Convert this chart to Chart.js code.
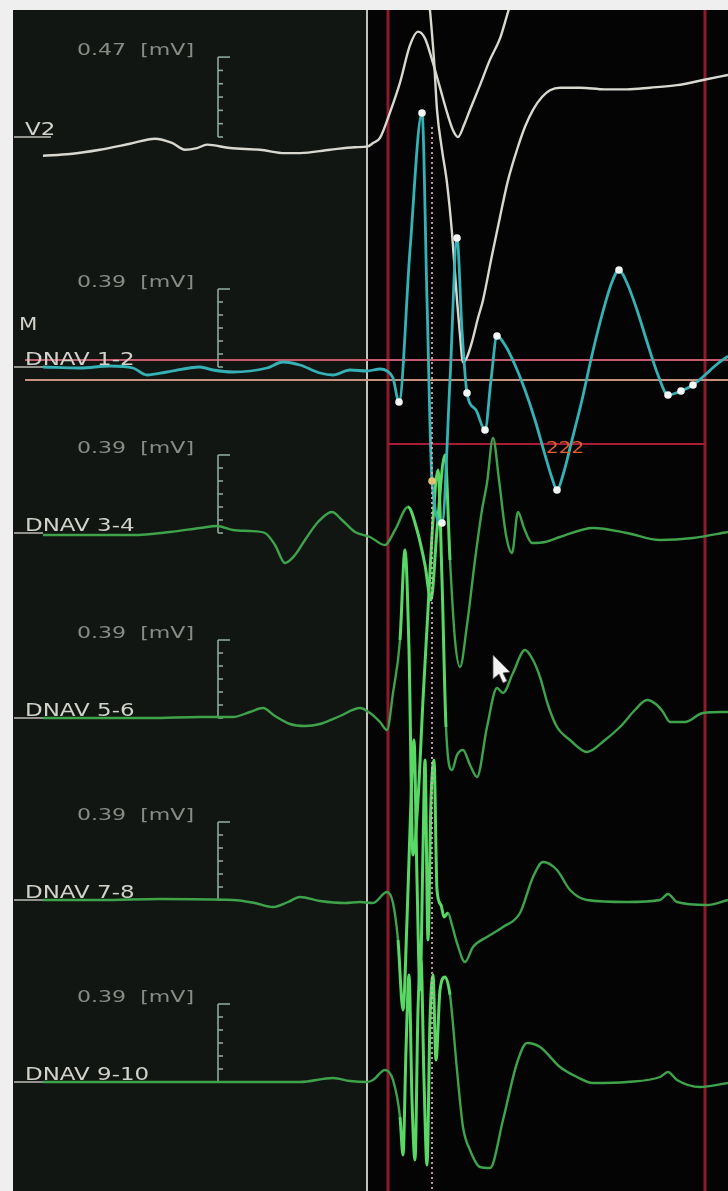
<!DOCTYPE html>
<html><head><meta charset="utf-8">
<script src="https://cdn.jsdelivr.net/npm/chart.js@4/dist/chart.umd.min.js"></script>
<style>html,body{margin:0;padding:0;background:#efefef;overflow:hidden;}canvas{display:block;}</style>
</head><body><canvas id="c" width="728" height="1191"></canvas>
<script>
// ---- Data (time in ms from window start, amplitude in mV relative to channel reference) ----
const v2Time = [30,57,87,117,142,159,172,184,194,217,247,272,287,317,342,355,360,367,377,387,397,405,412,419,427,434,440,445,451,457,467,477,487,495,502];
const v2Values = [-0.11,-0.10,-0.075,-0.04,-0.01,-0.035,-0.075,-0.065,-0.045,-0.065,-0.075,-0.095,-0.095,-0.075,-0.06,-0.055,-0.035,-0.005,0.145,0.32,0.54,0.62,0.58,0.455,0.29,0.145,0.04,0,0.07,0.16,0.305,0.455,0.58,0.735,0.865];

const ecg2Time = [415,417,421,424,429,434,439,444,447,450,454,459,465,470,479,487,495,504,512,520,529,537,547,567,592,614,637,664,690,715];
const ecg2Values = [0.865,0.745,0.455,0.16,-0.075,-0.27,-0.565,-0.96,-1.165,-1.325,-1.295,-1.205,-1.065,-0.96,-0.695,-0.47,-0.255,-0.075,0.06,0.16,0.235,0.275,0.29,0.29,0.28,0.28,0.29,0.305,0.335,0.365];

const dnav12Time = [30,67,97,120,134,154,187,200,220,254,270,287,307,320,337,354,367,374,380,386,397,409,414,419,429,437,444,449,454,463,472,478,484,492,502,512,522,532,539,544,550,559,569,579,589,599,606,614,624,635,645,655,668,680,692,703,715];
const dnav12Values = [0,-0.005,0.005,-0.005,-0.04,-0.025,0,-0.015,-0.025,-0.005,0.025,0.01,-0.03,-0.04,-0.015,-0.02,-0.01,-0.02,-0.055,-0.175,0.585,1.27,0.335,-0.57,-0.78,-0.065,0.645,0.185,-0.13,-0.215,-0.315,-0.065,0.155,0.11,0.01,-0.115,-0.265,-0.44,-0.555,-0.615,-0.54,-0.365,-0.165,0.06,0.26,0.425,0.485,0.42,0.285,0.11,-0.04,-0.14,-0.12,-0.09,-0.04,0.01,0.055];
const dnav12Marks = [386,409,419,429,444,454,472,484,544,606,655,668,680];
const dnav12ActiveMark = 419;

const dnav34Time = [30,77,120,157,187,204,220,237,252,262,272,282,292,305,319,329,342,357,372,382,395,404,412,418,424,432,437,442,447,454,462,469,474,480,486,493,499,505,511,519,532,547,580,614,647,680,715];
const dnav34Values = [-0.01,-0.01,-0.01,0.005,0.025,0.035,0.015,0.01,0,-0.06,-0.15,-0.11,-0.035,0.055,0.105,0.065,0.005,-0.02,-0.06,0.015,0.13,0.015,-0.16,-0.335,0.015,0.39,-0.135,-0.535,-0.67,-0.46,-0.135,0.115,0.25,0.475,0.265,-0.01,-0.10,0.105,0.025,-0.05,-0.045,-0.02,0.025,0,-0.035,-0.025,0.005];

const dnav56Time = [30,87,137,187,220,237,250,262,277,292,307,327,347,357,367,374,380,387,392,396,400,405,410,415,420,425,429,433,439,444,450,457,464,474,484,490,500,512,520,527,535,544,557,574,592,607,622,634,644,650,657,672,690,715];
const dnav56Values = [0,0,0,0.005,0.005,0.03,0.05,0.01,-0.03,-0.04,-0.03,0.01,0.05,0.025,-0.02,-0.06,0.125,0.39,0.84,0.34,-0.685,-0.41,0.09,0.54,0.99,1.24,0.69,-0.045,-0.26,-0.185,-0.16,-0.235,-0.295,-0.045,0.15,0.125,0.225,0.34,0.29,0.205,0.065,-0.045,-0.11,-0.17,-0.11,-0.045,0.04,0.09,0.065,0.03,-0.02,-0.02,0.025,0.03];

const dnav78Time = [30,87,147,220,242,260,275,287,307,332,347,360,374,380,385,390,394,398,401,404,407,410,412,415,418,421,424,428,431,435,439,444,452,460,474,490,507,520,530,544,557,574,614,647,655,664,694,715];
const dnav78Values = [0,0,0.005,0,-0.015,-0.035,-0.01,0.015,-0.005,-0.015,-0.01,-0.015,0.04,-0.015,-0.2,-0.55,-0.1,0.5,0.8,0.1,-0.45,0.25,0.7,-0.2,0.5,0.7,0.05,-0.025,-0.085,-0.065,-0.125,-0.215,-0.31,-0.235,-0.185,-0.135,-0.065,0.115,0.19,0.15,0.05,0,-0.01,0,0.03,-0.01,-0.025,0];

const dnav910Time = [30,137,220,287,320,337,354,360,372,380,387,390,393,396,399,402,405,408,411,414,417,420,423,427,432,437,444,450,457,467,477,490,504,514,527,547,564,580,614,647,655,664,687,715];
const dnav910Values = [0,0,0,0,0.02,0.005,0,0.01,0.06,0.01,-0.175,-0.365,0.16,0.535,-0.09,-0.39,0.36,0.61,0.01,-0.415,0.31,0.535,0.11,0.46,0.525,0.435,0.06,-0.225,-0.34,-0.425,-0.43,-0.19,0.095,0.195,0.175,0.075,0.025,-0.005,0,0.025,0.05,0.01,-0.025,-0.005];

const channelLabels = ['V2','DNAV 1-2','DNAV 3-4','DNAV 5-6','DNAV 7-8','DNAV 9-10'];
const scaleValues = [0.47,0.39,0.39,0.39,0.39,0.39];
const cycleLengthLabel = '222';

// ---- Layout (page pixels / gains) ----
const AREA_TOP = 10, AREA_BOTTOM = 1191;
const layoutCh = [
  {id:'yV2', base:137, gain:170},
  {id:'y12', base:367, gain:200},
  {id:'y34', base:533, gain:200},
  {id:'y56', base:718, gain:200},
  {id:'y78', base:900, gain:200},
  {id:'y910',base:1082,gain:200}
];
const T = {grey:354, red1:375, red2:692, dotted:419, bar:205, scaleText:64, lineStart:12};

const pts = (t,v)=>t.map((x,i)=>({x, y:v[i]}));
const yScales = {};
layoutCh.forEach(c=>{
  yScales[c.id] = {type:'linear', display:false, min:-(AREA_BOTTOM-c.base)/c.gain, max:(c.base-AREA_TOP)/c.gain};
});

const GREEN = '#3fa34b', GREEN_BRIGHT = '#5ad866';
const inBurst = ctx => ctx.p0.parsed.x >= 385 && ctx.p1.parsed.x <= 437;
const greenSeg = {
  borderColor: ctx => inBurst(ctx) ? GREEN_BRIGHT : GREEN,
  borderWidth: ctx => inBurst(ctx) ? 3 : 2.4
};
const lineBase = {pointRadius:0, cubicInterpolationMode:'monotone', borderWidth:2.4, fill:false};

const markData = dnav12Marks.map(t=>({x:t, y:dnav12Values[dnav12Time.indexOf(t)]}));

const datasets = [
  {label:'DNAV 1-2 annotations', data:markData, yAxisID:'y12', showLine:false, pointRadius:3.8, borderWidth:0,
   pointBackgroundColor: markData.map(p=>p.x===dnav12ActiveMark?'#e0c46a':'#f2f6f4')},
  {...lineBase, label:'DNAV 1-2', data:pts(dnav12Time,dnav12Values), yAxisID:'y12', borderColor:'#35b2b6', borderWidth:2.8},
  {...lineBase, label:'V2', data:pts(v2Time,v2Values), yAxisID:'yV2', borderColor:'#d8d8d0'},
  {...lineBase, label:'ECG', data:pts(ecg2Time,ecg2Values), yAxisID:'yV2', borderColor:'#d8d8d0'},
  {...lineBase, label:'DNAV 3-4', data:pts(dnav34Time,dnav34Values), yAxisID:'y34', borderColor:GREEN, segment:greenSeg},
  {...lineBase, label:'DNAV 5-6', data:pts(dnav56Time,dnav56Values), yAxisID:'y56', borderColor:GREEN, segment:greenSeg},
  {...lineBase, label:'DNAV 7-8', data:pts(dnav78Time,dnav78Values), yAxisID:'y78', borderColor:GREEN, segment:greenSeg},
  {...lineBase, label:'DNAV 9-10', data:pts(dnav910Time,dnav910Values), yAxisID:'y910', borderColor:GREEN, segment:greenSeg}
];

function stretchText(ctx, txt, x, y, sx){
  ctx.save(); ctx.translate(x,y); ctx.scale(sx,1); ctx.fillText(txt,0,0); ctx.restore();
}

const bgPlugin = {
  id:'bg',
  beforeDraw(chart){
    const {ctx, chartArea:a, scales} = chart;
    const split = scales.x.getPixelForValue(T.grey);
    ctx.save();
    ctx.fillStyle='#efefef'; ctx.fillRect(0,0,chart.width,chart.height);
    ctx.fillStyle='#121612'; ctx.fillRect(a.left,a.top,split-a.left,a.bottom-a.top);
    ctx.fillStyle='#040404'; ctx.fillRect(split,a.top,a.right-split,a.bottom-a.top);
    ctx.restore();
  },
  beforeDatasetsDraw(chart){
    const {ctx, chartArea:a, scales} = chart;
    const x = scales.x, y12 = scales.y12;
    ctx.save();
    const vline = (t,color,w)=>{
      const px = x.getPixelForValue(t);
      ctx.beginPath(); ctx.strokeStyle=color; ctx.lineWidth=w; ctx.setLineDash([]);
      ctx.moveTo(px, a.top); ctx.lineTo(px, a.bottom); ctx.stroke();
    };
    vline(T.grey,'#c2c2bc',2);
    vline(T.red1,'#8c1a2b',3);
    vline(T.red2,'#8c1a2b',3);
    const hline = (v,t0,t1,color,w)=>{
      const py = y12.getPixelForValue(v);
      ctx.beginPath(); ctx.strokeStyle=color; ctx.lineWidth=w; ctx.setLineDash([]);
      ctx.moveTo(x.getPixelForValue(t0),py); ctx.lineTo(x.getPixelForValue(t1),py); ctx.stroke();
    };
    hline(0.035,T.lineStart,715,'#c45a6c',2);
    hline(-0.065,T.lineStart,715,'#c8907f',2);
    hline(-0.385,T.red1,T.red2,'#a81d36',2);
    layoutCh.forEach((c,i)=>{
      const ys = scales[c.id];
      const bx = x.getPixelForValue(T.bar);
      const top = ys.getPixelForValue(scaleValues[i]), bot = ys.getPixelForValue(0);
      ctx.strokeStyle='#8ea89b'; ctx.lineWidth=1.6; ctx.setLineDash([]);
      ctx.beginPath(); ctx.moveTo(bx,top); ctx.lineTo(bx,bot); ctx.stroke();
      const n=6;
      for(let k=0;k<=n;k++){
        const py = top+(bot-top)*k/n;
        const len = (k===0)?12:5;
        ctx.beginPath(); ctx.moveTo(bx,py); ctx.lineTo(bx+len,py); ctx.stroke();
      }
      ctx.strokeStyle='#bdbdb6'; ctx.lineWidth=1.5;
      ctx.beginPath(); ctx.moveTo(a.left+1,bot); ctx.lineTo(a.left+(i===0?38:30),bot); ctx.stroke();
    });
    ctx.restore();
  },
  afterDatasetsDraw(chart){
    const {ctx, chartArea:a, scales} = chart;
    const x = scales.x;
    ctx.save();
    const dpx = x.getPixelForValue(T.dotted);
    ctx.strokeStyle='rgba(225,170,185,0.85)'; ctx.lineWidth=2; ctx.setLineDash([2,3]);
    ctx.beginPath(); ctx.moveTo(dpx, scales.y12.getPixelForValue(1.2)); ctx.lineTo(dpx,a.bottom); ctx.stroke();
    ctx.setLineDash([]);
    ctx.textBaseline='alphabetic';
    layoutCh.forEach((c,i)=>{
      const ys = scales[c.id];
      const bot = ys.getPixelForValue(0), top = ys.getPixelForValue(scaleValues[i]);
      ctx.fillStyle='#d2d2cb'; ctx.font='17px "DejaVu Sans"';
      stretchText(ctx, channelLabels[i], a.left+12, bot-2, 1.35);
      ctx.fillStyle='#8a8a86'; ctx.font='16px "DejaVu Sans"';
      stretchText(ctx, scaleValues[i].toFixed(2)+'  [mV]', x.getPixelForValue(T.scaleText), top-2, 1.38);
    });
    ctx.fillStyle='#d2d2cb'; ctx.font='17px "DejaVu Sans"';
    stretchText(ctx,'M', a.left+6, scales.y12.getPixelForValue(0.185), 1.25);
    ctx.fillStyle='#e0612b'; ctx.font='16px "DejaVu Sans"';
    stretchText(ctx, cycleLengthLabel, x.getPixelForValue(533), scales.y12.getPixelForValue(-0.43), 1.25);
    const cx = x.getPixelForValue(480), cy = scales.y56.getPixelForValue(0.315);
    ctx.fillStyle='#f2f2f2'; ctx.strokeStyle='#555'; ctx.lineWidth=0.8;
    ctx.beginPath();
    ctx.moveTo(cx,cy); ctx.lineTo(cx,cy+24); ctx.lineTo(cx+6,cy+19); ctx.lineTo(cx+10,cy+28);
    ctx.lineTo(cx+14,cy+26); ctx.lineTo(cx+10,cy+18); ctx.lineTo(cx+17,cy+17); ctx.closePath();
    ctx.fill(); ctx.stroke();
    ctx.restore();
  }
};

new Chart(document.getElementById('c'), {
  type:'line',
  data:{datasets},
  options:{
    responsive:false, animation:false, devicePixelRatio:1,
    layout:{autoPadding:false, padding:{left:13, top:AREA_TOP, right:0, bottom:0}},
    plugins:{legend:{display:false}, tooltip:{enabled:false}, title:{display:false}},
    scales:{x:{type:'linear', display:false, min:0, max:715}, ...yScales}
  },
  plugins:[bgPlugin]
});
</script></body></html>
